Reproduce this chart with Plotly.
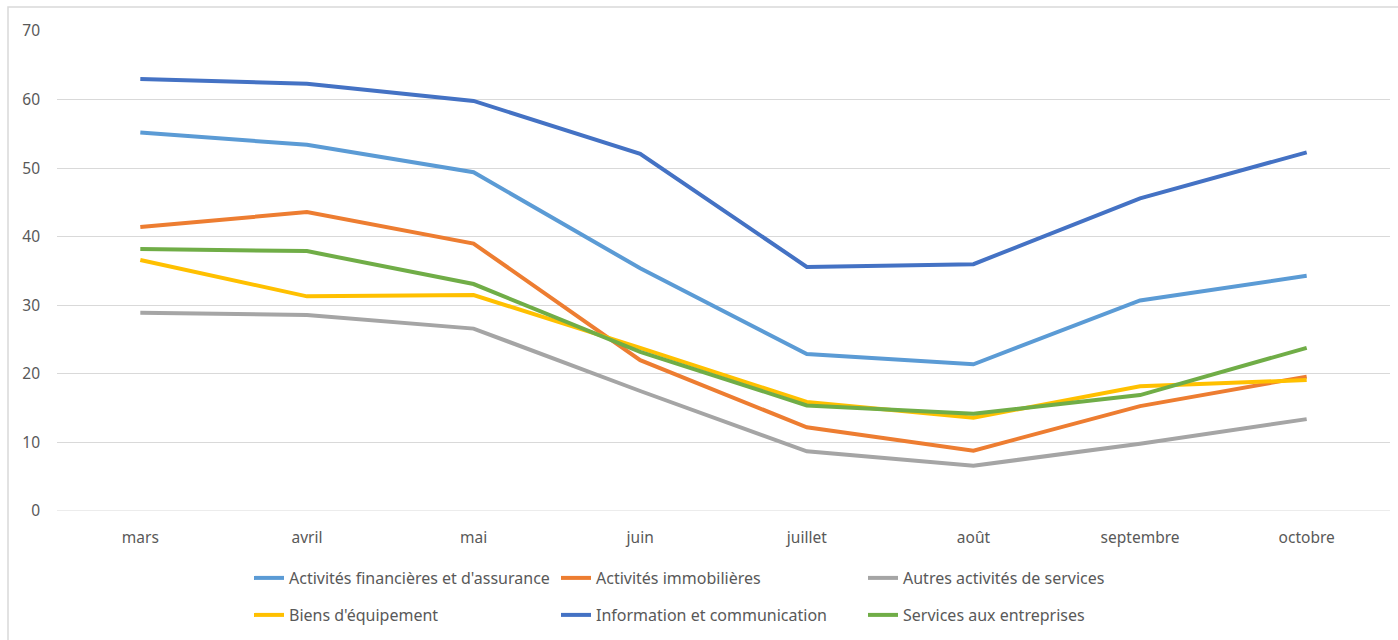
import plotly.graph_objects as go

# Months on the x axis
months = ["mars", "avril", "mai", "juin", "juillet", "août", "septembre", "octobre"]

# Series values per sector
finance = [55.2, 53.4, 49.4, 35.4, 22.9, 21.4, 30.7, 34.3]
immobilier = [41.4, 43.6, 39.0, 22.0, 12.2, 8.8, 15.3, 19.6]
autres_services = [28.9, 28.6, 26.6, 17.5, 8.7, 6.6, 9.8, 13.4]
biens_equipement = [36.6, 31.3, 31.5, 23.8, 15.9, 13.6, 18.2, 19.1]
information = [63.0, 62.3, 59.8, 52.1, 35.6, 36.0, 45.6, 52.3]
services_entreprises = [38.2, 37.9, 33.1, 23.2, 15.4, 14.2, 16.9, 23.8]

series = [
    ("Activités financières et d'assurance", finance, "#5B9BD5"),
    ("Activités immobilières", immobilier, "#ED7D31"),
    ("Autres activités de services", autres_services, "#A5A5A5"),
    ("Biens d'équipement", biens_equipement, "#FFC000"),
    ("Information et communication", information, "#4472C4"),
    ("Services aux entreprises", services_entreprises, "#70AD47"),
]

W, H = 1398, 640
ML, MR, MT, MB = 57, 8, 31, 129
PW, PH = W - ML - MR, H - MT - MB

fig = go.Figure()
for i, (name, vals, color) in enumerate(series):
    fig.add_trace(go.Scatter(
        x=months, y=vals, name=name, mode="lines",
        line=dict(color=color, width=4),
        legend="legend" if i < 3 else "legend2",
    ))

# Two one-row legends so the row spacing can be set freely
legend_common = dict(
    orientation="h", x=(249 - ML) / PW, xanchor="left", yanchor="middle",
    entrywidth=262, entrywidthmode="pixels",
    font=dict(family="Noto Sans", size=16, color="#595959"),
    itemwidth=30, bgcolor="rgba(0,0,0,0)",
)

fig.update_layout(
    width=W, height=H,
    margin=dict(l=ML, r=MR, t=MT, b=MB, autoexpand=False),
    paper_bgcolor="white", plot_bgcolor="white",
    font=dict(family="Noto Sans", size=15, color="#595959"),
    showlegend=True,
    legend=dict(legend_common, y=(H - MB - 578) / PH),
    legend2=dict(legend_common, y=(H - MB - 615) / PH),
    xaxis=dict(
        range=[-0.5, len(months) - 0.5],
        showgrid=False, zeroline=False, showline=False,
        ticks="", tickfont=dict(size=15.5, color="#595959"),
        ticklabelstandoff=15,
    ),
    yaxis=dict(
        range=[0, 70], dtick=10, showgrid=True, gridcolor="#D9D9D9", gridwidth=1,
        zeroline=False, showline=False, ticks="",
        tickfont=dict(size=15.5, color="#595959"), ticklabelstandoff=16,
    ),
    shapes=[
        dict(
            type="rect", xref="paper", yref="paper",
            x0=(8 - ML) / PW, x1=(W + 10 - ML) / PW,
            y0=-(H + 10 - (H - MB)) / PH, y1=1 + (MT - 7) / PH,
            line=dict(color="#D9D9D9", width=1.5), layer="below",
        ),
        dict(
            type="line", xref="paper", yref="y", x0=0, x1=1, y0=0, y1=0,
            line=dict(color="#D9D9D9", width=1), layer="below",
        ),
    ],
)

fig.write_html("out.html")
